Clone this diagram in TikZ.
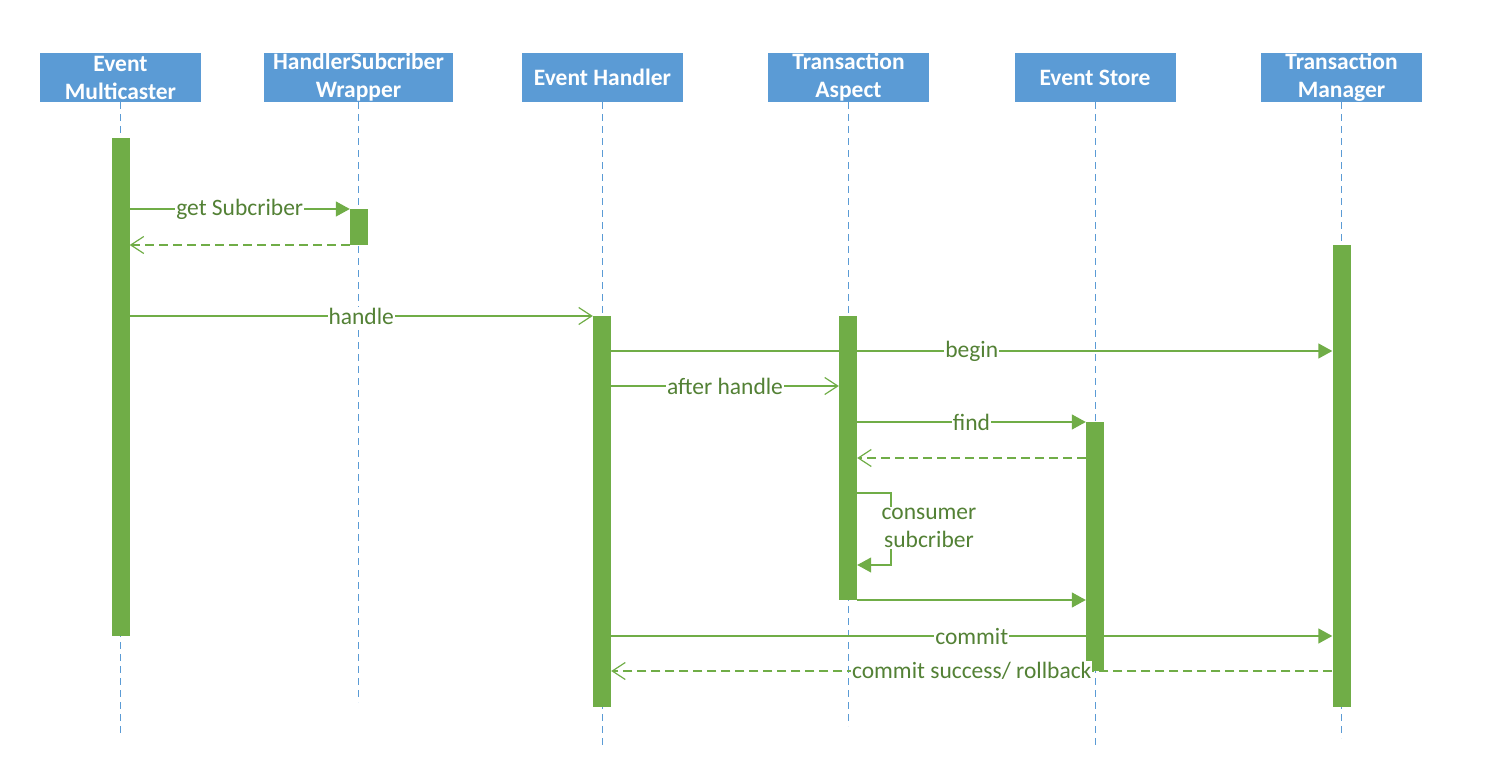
\documentclass[tikz,border=0pt]{standalone}
\usepackage{fontspec}
\setmainfont{Carlito}
\usetikzlibrary{arrows.meta}
\definecolor{headblue}{HTML}{5B9BD5}
\definecolor{barfill}{HTML}{70AD47}
\definecolor{msgtext}{HTML}{538135}
\begin{document}
\begin{tikzpicture}[x=1pt,y=-1pt,
  head/.style={fill=headblue, draw=none, minimum width=161pt, minimum height=49pt,
    inner sep=0pt, text=white, align=center,
    font=\fontsize{23.5}{28}\selectfont\bfseries},
  life/.style={draw=headblue, line width=0.9pt, dash pattern=on 7pt off 5pt},
  bar/.style={fill=barfill, draw=none, minimum width=18pt, inner sep=0pt, anchor=north},
  msg/.style={draw=barfill, line width=1.4pt, -{Triangle[length=14pt,width=15pt]}},
  call/.style={draw=barfill, line width=1.2pt, -{Straight Barb[length=13pt,width=17pt,line width=1.2pt]}},
  reply/.style={call, dash pattern=on 9pt off 5pt},
  lbl/.style={fill=white, inner sep=1pt, text=msgtext,
    font=\fontsize{23.5}{28}\selectfont, align=center}]
\useasboundingbox (0,0) rectangle (1491,783);

% participants
\node[head] (em) at (120.5,77.5) {Event\\Multicaster};
\node[head, minimum width=189pt] (hw) at (358.5,77.5) {HandlerSubcriber\\Wrapper};
\node[head] (eh) at (602.5,77.5) {Event Handler};
\node[head] (ta) at (848.5,77.5) {Transaction\\Aspect};
\node[head] (es) at (1095,77.5) {Event Store};
\node[head] (tm) at (1341.5,77.5) {Transaction\\Manager};

% lifelines
\draw[life] (em.south) -- ++(0,635);
\draw[life] (hw.south) -- ++(0,600);
\draw[life] (eh.south) -- ++(0,644);
\draw[life] (ta.south) -- ++(0,624);
\draw[life] (es.south) -- ++(0,644);
\draw[life] (tm.south) -- ++(0,636);

% activation bars
\node[bar, minimum height=498pt] (emb) at (120.5,138) {};
\node[bar, minimum height=36pt]  (hwb) at (359,209) {};
\node[bar, minimum height=391pt] (ehb) at (602,316) {};
\node[bar, minimum height=284pt] (tab) at (848,316) {};
\node[bar, minimum height=249pt] (esb) at (1095,422) {};
\node[bar, minimum height=462pt] (tmb) at (1341.5,245) {};

% message rows
\coordinate (r1) at (0,209);
\coordinate (r2) at (0,245);
\coordinate (r3) at (0,316);
\coordinate (r4) at (0,351);
\coordinate (r5) at (0,386);
\coordinate (r6) at (0,422);
\coordinate (r7) at (0,458);
\coordinate (r8) at (0,493);
\coordinate (r9) at (0,565);
\coordinate (r10) at (0,600);
\coordinate (r11) at (0,636);
\coordinate (r12) at (0,671);
\coordinate (loop) at (891,0);

% messages
\draw[msg] (emb.east |- r1) -- (hwb.west |- r1)
  node[lbl, pos=0.5] {get Subcriber};
\draw[reply] (hwb.west |- r2) -- (emb.east |- r2);
\draw[call] (emb.east |- r3) -- (ehb.west |- r3)
  node[lbl, pos=0.5] {handle};
\draw[msg] (ehb.east |- r4) -- (tmb.west |- r4)
  node[lbl, pos=0.5] {begin};
\draw[call] (ehb.east |- r5) -- (tab.west |- r5)
  node[lbl, pos=0.5] {after handle};
\draw[msg] (tab.east |- r6) -- (esb.west |- r6)
  node[lbl, pos=0.5] {find};
\draw[reply] (esb.west |- r7) -- (tab.east |- r7);
\draw[msg, line width=1.1pt] (tab.east |- r8) -- (loop |- r8) -- (loop |- r9) -- (tab.east |- r9);
\node[lbl] (selflbl) at (929,528) {consumer\\subcriber};
\draw[msg] (tab.east |- r10) -- (esb.west |- r10);
\draw[msg] (ehb.east |- r11) -- (tmb.west |- r11)
  node[lbl, pos=0.5] {commit};
\draw[reply] (tmb.west |- r12) -- (ehb.east |- r12)
  node[lbl, pos=0.5] {commit success/ rollback};
\end{tikzpicture}
\end{document}
